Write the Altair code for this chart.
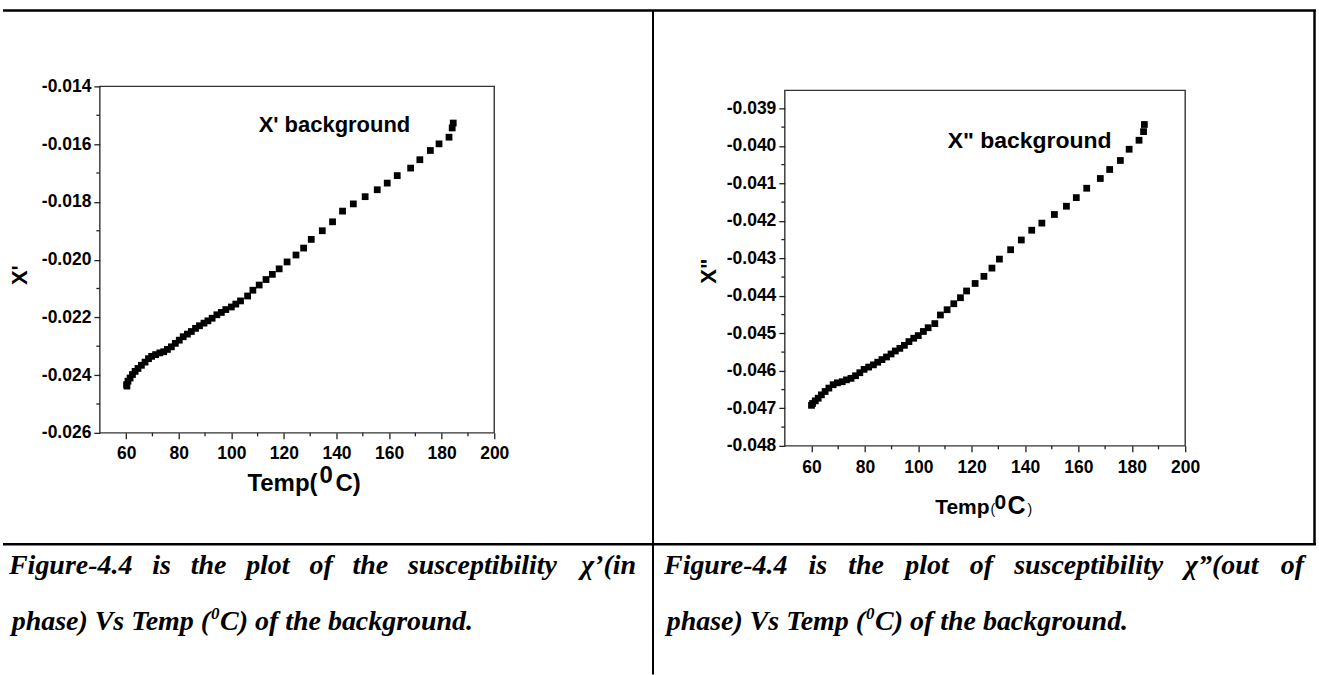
import altair as alt
import pandas as pd

# ---------------- data ----------------
temp_left = [60.3, 60.2, 60.7, 61.5, 62.4, 63.4, 64.5, 65.8, 67.2, 68.5, 69.7, 71.2, 72.8,
             74.3, 75.7, 77.2, 78.7, 80.2, 81.7, 83.3, 84.8, 86.4, 87.9, 89.6, 91.1, 92.7,
             94.5, 96.2, 97.9, 100.0, 101.7, 103.5, 106.2, 108.2, 110.6, 113.2, 115.6, 118.2,
             121.2, 124.6, 127.5, 130.4, 134.6, 138.5, 142.3, 146.4, 150.9, 155.5, 159.3,
             163.1, 168.2, 171.7, 175.7, 179.0, 182.8, 184.0, 184.4]
chi_in = [-0.02438, -0.02433, -0.02421, -0.02410, -0.02398, -0.02387, -0.02377, -0.02366,
          -0.02355, -0.02343, -0.02335, -0.02329, -0.02323, -0.02319, -0.02311, -0.02302,
          -0.02290, -0.02279, -0.02267, -0.02258, -0.02249, -0.02238, -0.02229, -0.02220,
          -0.02212, -0.02203, -0.02191, -0.02183, -0.02173, -0.02164, -0.02154, -0.02143,
          -0.02126, -0.02106, -0.02088, -0.02069, -0.02051, -0.02032, -0.02008, -0.01984,
          -0.01960, -0.01930, -0.01900, -0.01869, -0.01832, -0.01807, -0.01782, -0.01758,
          -0.01735, -0.01709, -0.01683, -0.01654, -0.01622, -0.01599, -0.01576, -0.01544,
          -0.01527]

temp_right = [60.0, 60.4, 61.4, 62.5, 63.7, 65.1, 66.5, 68.1, 69.7, 71.5, 73.1, 74.8, 76.5,
              78.1, 79.7, 81.4, 83.2, 84.8, 86.4, 88.1, 89.8, 91.4, 93.1, 94.8, 96.5, 98.3,
              100.0, 101.9, 103.7, 106.2, 108.3, 110.8, 113.3, 115.8, 118.1, 121.3, 124.6,
              127.6, 130.4, 134.6, 138.6, 142.5, 146.3, 151.0, 155.5, 159.2, 163.1, 168.2,
              171.7, 175.7, 179.0, 182.7, 184.4, 184.7]
chi_out = [-0.04692, -0.04687, -0.04680, -0.04673, -0.04664, -0.04655, -0.04646, -0.04637,
           -0.04632, -0.04629, -0.04624, -0.04620, -0.04613, -0.04605, -0.04596, -0.04590,
           -0.04584, -0.04577, -0.04570, -0.04563, -0.04555, -0.04547, -0.04540, -0.04532,
           -0.04522, -0.04513, -0.04506, -0.04495, -0.04485, -0.04474, -0.04451, -0.04437,
           -0.04421, -0.04405, -0.04387, -0.04367, -0.04348, -0.04326, -0.04302, -0.04277,
           -0.04251, -0.04225, -0.04206, -0.04183, -0.04161, -0.04138, -0.04113, -0.04087,
           -0.04063, -0.04039, -0.04009, -0.03985, -0.03962, -0.03943]

x_domain = [50, 200]
x_ticks = [60, 80, 100, 120, 140, 160, 180, 200]
x_minor = [70, 90, 110, 130, 150, 170, 190]

yl_domain = [-0.026, -0.014]
yl_ticks = [-0.026, -0.024, -0.022, -0.020, -0.018, -0.016, -0.014]
yl_minor = [-0.025, -0.023, -0.021, -0.019, -0.017, -0.015]

yr_domain = [-0.048, -0.03852]
yr_ticks = [-0.048, -0.047, -0.046, -0.045, -0.044, -0.043, -0.042, -0.041, -0.040, -0.039]
yr_minor = [-0.0475, -0.0465, -0.0455, -0.0445, -0.0435, -0.0425, -0.0415, -0.0405, -0.0395]

label_left = "X' background"
label_left_pos = (110.4, -0.01559)
label_right = 'X" background'
label_right_pos = (111.0, -0.04007)

ytitle_left = "X'"
ytitle_right = 'X"'

cap_left_l1 = ["Figure-4.4", "is", "the", "plot", "of", "the", "susceptibility", "\u03c7\u2019(in"]
cap_right_l1 = ["Figure-4.4", "is", "the", "plot", "of", "susceptibility", "\u03c7\u201d(out", "of"]
cap_l2 = ["phase) Vs Temp (", "0", "C) of the background."]

# ---------------- layout (absolute page pixels) ----------------
SANS = "Liberation Sans"
SERIF = "Liberation Serif"
ONE = pd.DataFrame({"k": [0]})
OX, OY = 99, 85          # page position of the left plot area (origin of left panel)


def rule(x1, x2, y1, y2, w):
    return alt.Chart(ONE).mark_rule(color="black", strokeWidth=w).encode(
        x=alt.value(x1 - OX), x2=alt.value(x2 - OX), y=alt.value(y1 - OY), y2=alt.value(y2 - OY))


def txt(s, x, y, size, font=SANS, weight="bold", style="normal", align="left",
        baseline="alphabetic", angle=0):
    return alt.Chart(pd.DataFrame({"s": [s]})).mark_text(
        align=align, baseline=baseline, font=font, fontSize=size, fontWeight=weight,
        fontStyle=style, angle=angle, color="black").encode(
        x=alt.value(x - OX), y=alt.value(y - OY), text="s:N")


def panel(w, h, ytop, temps, vals, ydom, yt, ym, label, lpos, lsize, xpad, extra=()):
    xs = alt.Scale(domain=x_domain, range=[0, w], nice=False, zero=False)
    ys = alt.Scale(domain=ydom, range=[h, ytop], nice=False, zero=False)
    common = dict(domain=False, grid=False, tickSize=6, tickWidth=1.3, tickColor="#222",
                  labelFont=SANS, labelFontSize=17.5, labelFontWeight=700,
                  labelColor="black", labelFlush=False, labelOverlap=False, zindex=1)
    xaxis = alt.Axis(orient="bottom", values=x_ticks, format="d", labelPadding=xpad, **common)
    yaxis = alt.Axis(orient="left", values=yt,
                     labelExpr="'-' + format(abs(datum.value), '.3f')",
                     labelPadding=3, **common)
    X = lambda f: alt.X(f, scale=xs, axis=xaxis, title=None)
    Y = lambda f: alt.Y(f, scale=ys, axis=yaxis, title=None)
    df = pd.DataFrame({"T": temps, "v": vals})
    pts = alt.Chart(df).mark_square(size=46, color="black", opacity=1).encode(
        x=X("T:Q"), y=Y("v:Q"))
    mx = alt.Chart(pd.DataFrame({"m": x_minor})).mark_rule(color="#222", strokeWidth=1.3).encode(
        x=X("m:Q"), y=alt.value(h), y2=alt.value(h + 3.5))
    my = alt.Chart(pd.DataFrame({"m": ym})).mark_rule(color="#222", strokeWidth=1.3).encode(
        y=Y("m:Q"), x=alt.value(-3.5), x2=alt.value(0))
    frame = alt.Chart(ONE).mark_rect(fillOpacity=0, stroke="#333", strokeWidth=1.4).encode(
        x=alt.value(0), x2=alt.value(w), y=alt.value(ytop), y2=alt.value(h))
    lab = alt.Chart(pd.DataFrame({"T": [lpos[0]], "v": [lpos[1]], "s": [label]})).mark_text(
        align="left", baseline="alphabetic", font=SANS, fontSize=lsize, fontWeight="bold",
        color="black").encode(x=X("T:Q"), y=Y("v:Q"), text="s:N")
    return alt.layer(*extra, frame, mx, my, pts, lab).properties(width=w, height=h)


# invisible page-sized rect so that the whole page is exactly the canvas
page = alt.Chart(ONE).mark_rect(fill="white", opacity=0).encode(
    x=alt.value(-OX), x2=alt.value(1319 - OX), y=alt.value(-OY), y2=alt.value(675 - OY))

cap_l1_left_x = [8, 151.5, 190.0, 245.5, 309.0, 352.0, 407.5]
cap_l1_right_x = [664, 808.8, 848.6, 905.6, 970.3, 1014.7, 1185.8]
B1, B2 = 573, 629
CAP = dict(font=SERIF, style="italic")

decor = [
    page,
    rule(2, 1317, 9, 9, 2.5),
    rule(653, 653, 9, 674, 2),
    rule(1315.5, 1315.5, 9, 544, 2.5),
    rule(2, 1317, 543.5, 543.5, 2.5),
    # y titles
    txt(ytitle_left, 19, 274, 22, align="center", baseline="middle", angle=270),
    txt(ytitle_right, 709, 270, 22, align="center", baseline="middle", angle=270),
    # x titles  Temp(0C)
    txt("Temp(", 317, 490, 24, align="right"),
    txt("0", 319, 482, 24),
    txt("C)", 335, 490, 24),
    txt("Temp", 990, 513, 21, align="right"),
    txt("(", 991, 513, 14, weight="normal"),
    txt("0", 995, 508, 21),
    txt("C", 1008, 513, 25),
    txt(")", 1028, 513, 14, weight="normal"),
]
# captions, line 1 (justified)
for wd, x in zip(cap_left_l1[:-1], cap_l1_left_x):
    decor.append(txt(wd, x, B1, 28, **CAP))
decor.append(txt(cap_left_l1[-1], 636, B1, 28, align="right", **CAP))
for wd, x in zip(cap_right_l1[:-1], cap_l1_right_x):
    decor.append(txt(wd, x, B1, 28, **CAP))
decor.append(txt(cap_right_l1[-1], 1305, B1, 28, align="right", **CAP))
# captions, line 2 with superscript 0
for X0 in (209.4, 865.4):
    decor.append(txt(cap_l2[0], X0, B2, 28, align="right", **CAP))
    decor.append(txt(cap_l2[1], X0 + 1, B2 - 11, 17, **CAP))
    decor.append(txt(cap_l2[2], X0 + 10, B2, 28, **CAP))

left = panel(395, 347, 0, temp_left, chi_in, yl_domain, yl_ticks, yl_minor,
             label_left, label_left_pos, 22, 6, extra=decor)
right = panel(401, 360, 4, temp_right, chi_out, yr_domain, yr_ticks, yr_minor,
              label_right, label_right_pos, 23, 7)

chart = alt.hconcat(left, right, spacing=291, bounds="flush").resolve_scale(
    x="independent", y="independent"
).properties(padding=0).configure_view(stroke="transparent").configure_axis(
    labelFont=SANS, labelFontSize=17.5, labelFontWeight="bold", labelColor="black"
)

chart.save("out.html", embed_options={"renderer": "svg", "actions": False})
